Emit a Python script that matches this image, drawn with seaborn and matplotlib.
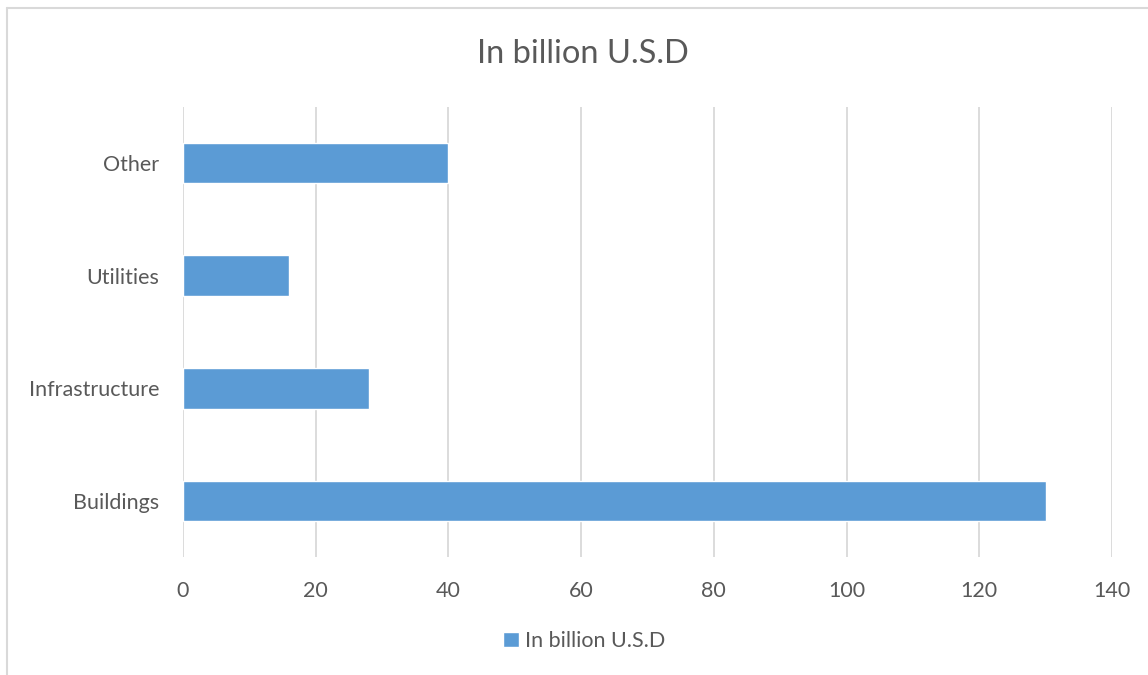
import matplotlib
matplotlib.use("Agg")
import matplotlib.pyplot as plt
import seaborn as sns
import pandas as pd
from matplotlib.lines import Line2D

# data (top to bottom as in the chart)
categories = ["Other", "Utilities", "Infrastructure", "Buildings"]
values = [40, 16, 28, 130]
series_name = "In billion U.S.D"
x_ticks = [0, 20, 40, 60, 80, 100, 120, 140]

df = pd.DataFrame({"category": categories, "value": values})

sns.set_theme(style="white")
plt.rcParams["font.family"] = ["Lato", "DejaVu Sans"]

text_col = "#595959"
bar_col = "#5B9BD5"
grid_col = "#D9D9D9"

fig = plt.figure(figsize=(11.48, 6.75), dpi=100)
ax = fig.add_axes([0.1594, 0.1748, 0.8092, 0.6667])

sns.barplot(data=df, x="value", y="category", orient="h", color=bar_col,
            width=0.36, saturation=1, label=series_name, ax=ax, zorder=3)
if ax.get_legend() is not None:
    ax.get_legend().remove()

ax.set_xlim(0, 140)
ax.set_xticks(x_ticks)
ax.set_xticklabels([str(t) for t in x_ticks])
ax.set_ylim(3.5, -0.5)
ax.set_xlabel("")
ax.set_ylabel("")
for s in ax.spines.values():
    s.set_visible(False)
ax.xaxis.grid(True, color=grid_col, linewidth=1.3, zorder=0)
ax.set_axisbelow(True)
ax.tick_params(axis="both", length=0, labelsize=15.5, labelcolor=text_col)
ax.tick_params(axis="x", pad=17)
ax.tick_params(axis="y", pad=17)

fig.text(0.508, 0.92, series_name, ha="center", va="center",
         fontsize=23.5, color=text_col)

handles, labels = ax.get_legend_handles_labels()
fig.legend(handles, labels, loc="center", bbox_to_anchor=(0.509, 0.05),
           frameon=False, fontsize=15.5, labelcolor=text_col,
           handlelength=0.7, handleheight=0.7, handletextpad=0.3)

# chart border (only top and left edges visible, the rest is cropped)
fig.lines.append(Line2D([0.006, 1.0], [0.988, 0.988], transform=fig.transFigure,
                        color="#D9D9D9", linewidth=1.5))
fig.lines.append(Line2D([0.006, 0.006], [0.0, 0.988], transform=fig.transFigure,
                        color="#D9D9D9", linewidth=1.5))

fig.savefig("out.png", dpi=100)
